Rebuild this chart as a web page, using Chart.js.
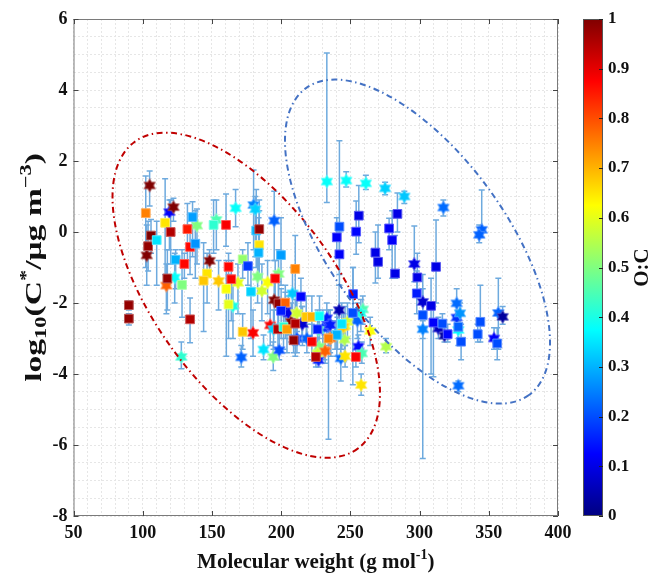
<!DOCTYPE html>
<html>
<head>
<meta charset="utf-8">
<script src="https://cdn.jsdelivr.net/npm/chart.js@4"></script>
<style>
  html, body { margin: 0; padding: 0; background: #fff; }
</style>
</head>
<body>
<canvas id="chart" width="656" height="575"></canvas>
<script>
// Volatility vs molecular weight, coloured by O:C

// [molecular weight, log10 C*, O:C, error low, error high]
const squares = [
  [90, -2.06, 0.98, -2.2, -1.95], [90, -2.44, 0.98, -2.62, -2.3],
  [102.2, 0.53, 0.75, -1.0, 1.58], [106, -0.1, 1.0, -0.6, 0.35],
  [103.9, -0.4, 0.98, -1.1, 0.3], [110.1, -0.23, 0.35, -1.5, 0.3],
  [116.2, 0.26, 0.65, -1.2, 1.5], [120.2, 0.0, 0.95, -0.9, 0.9],
  [132.3, 0.08, 0.85, -0.8, 0.8], [136, 0.42, 0.28, -0.7, 0.85],
  [134.2, -0.42, 0.87, -1.2, 0.2], [138, -0.33, 0.27, -1.3, 0.6],
  [123.8, -0.78, 0.3, -1.6, -0.5], [130.1, -0.9, 0.87, -1.3, -0.6],
  [151.2, 0.2, 0.42, -0.6, 0.9], [160.2, 0.2, 0.88, -0.4, 1.07],
  [182, 0.04, 0.3, -1.0, 1.2], [184.2, 0.08, 0.98, -0.7, 0.9],
  [184.2, -0.37, 0.65, -1.2, 0.6], [183.7, -0.58, 0.3, -1.3, 0.4],
  [199.9, -0.65, 0.28, -1.5, 0.4], [172.2, -0.77, 0.52, -1.3, -0.5],
  [176, -0.96, 0.18, -1.5, -0.3], [162, -0.98, 0.87, -1.3, -0.6],
  [210.2, -1.04, 0.75, -1.7, -0.1], [117.8, -1.31, 0.98, -2.2, -0.5],
  [128.4, -1.49, 0.5, -2.4, -0.5], [134.2, -2.46, 0.95, -3.12, -1.86],
  [146.5, -1.17, 0.65, -2.0, -0.6], [144, -1.37, 0.68, -2.8, -0.3],
  [164, -1.33, 0.88, -2.5, -0.8], [160.4, -1.6, 0.62, -3.5, -0.8],
  [178.2, -1.68, 0.33, -3.0, -1.0], [195.7, -1.31, 0.88, -2.0, -0.8],
  [214.3, -1.82, 0.13, -2.5, -1.3], [162, -2.04, 0.6, -3.0, -1.2],
  [198.1, -2.01, 0.98, -2.8, -1.4], [203, -1.99, 0.78, -3.0, -1.5],
  [200, -2.22, 0.15, -3.0, -1.6], [197.7, -2.74, 0.95, -3.4, -2.2],
  [201.7, -2.67, 0.42, -3.3, -1.9], [204.2, -2.74, 0.72, -3.4, -2.0],
  [210.2, -2.58, 0.95, -3.2, -1.9], [172.2, -2.81, 0.68, -3.3, -2.3],
  [210.2, -3.05, 0.17, -3.5, -2.5], [209, -3.05, 0.98, -3.4, -2.6],
  [218.1, -2.39, 0.68, -3.1, -1.8], [222.2, -2.39, 0.7, -3.0, -1.8],
  [227.7, -2.37, 0.38, -3.0, -1.8], [226.3, -2.74, 0.15, -3.3, -2.2],
  [240.2, -2.9, 0.3, -3.5, -2.3], [234.2, -3.0, 0.75, -5.84, -2.4],
  [222.2, -3.09, 0.88, -3.6, -2.6], [225.1, -3.52, 0.95, -3.8, -3.2],
  [254, -3.52, 0.88, -3.8, -3.2], [243.8, -2.59, 0.35, -3.3, -2.0],
  [251.8, -2.28, 0.2, -4.3, -1.0], [252, -1.75, 0.15, -2.5, -1.0],
  [242.1, 0.15, 0.2, -1.5, 2.57], [240.2, -0.15, 0.12, -0.7, 0.4],
  [242.1, -0.63, 0.12, -1.2, 0.0], [254.2, 0.01, 0.13, -0.63, 0.87],
  [256.1, 0.46, 0.1, -0.3, 1.31], [268.1, -0.58, 0.1, -1.44, 0.0],
  [270, -0.84, 0.1, -1.3, 0.2], [278, 0.1, 0.12, -0.5, 0.39],
  [280.2, -0.23, 0.12, -1.3, 0.6], [284, 0.51, 0.1, 0.0, 1.1],
  [282.3, -1.17, 0.1, -1.3, -0.1], [298.4, -1.28, 0.1, -1.8, -0.6],
  [298, -1.73, 0.15, -2.3, -1.1], [311.9, -0.98, 0.1, -2.0, 0.34],
  [308.3, -2.08, 0.1, -4.0, -1.3], [302.3, -2.34, 0.2, -6.38, -1.2],
  [310, -2.55, 0.12, -4.08, -2.1], [316.5, -2.58, 0.2, -3.0, -2.3],
  [320.3, -2.88, 0.13, -3.1, -2.6], [328, -2.67, 0.22, -3.2, -2.2],
  [330, -3.09, 0.2, -3.6, -2.6], [342, -2.88, 0.2, -3.1, -2.6],
  [343.9, -2.53, 0.2, -3.1, -1.5], [356.1, -3.14, 0.2, -3.6, -2.7]
];

const hexagrams = [
  [105, 1.31, 1.0, 0.73, 1.72], [119.3, 0.56, 0.12, -0.5, 0.9],
  [122.2, 0.7, 1.0, 0.3, 0.95], [139.2, 0.18, 0.5, -0.9, 0.65],
  [102.9, -0.66, 1.0, -1.5, 0.2], [148.3, -0.81, 1.0, -1.1, -0.5],
  [153.2, 0.34, 0.45, -0.5, 0.9], [167.1, 0.67, 0.38, 0.15, 1.2],
  [180.1, 0.76, 0.25, -0.5, 1.75], [181.3, 0.64, 0.33, -0.7, 1.0],
  [195, 0.32, 0.22, -0.8, 1.15], [117.1, -1.51, 0.78, -2.3, -0.9],
  [123.1, -1.28, 0.38, -2.0, -0.6], [127.9, -3.52, 0.42, -3.85, -3.1],
  [154.8, -1.38, 0.68, -2.2, -0.8], [168.8, -1.43, 0.6, -2.3, -0.9],
  [183, -1.26, 0.5, -2.0, -0.5], [186.1, -1.66, 0.58, -2.5, -0.9],
  [190.2, -1.42, 0.62, -2.3, -0.8], [198.1, -1.18, 0.5, -1.9, -0.5],
  [208.2, -1.73, 0.32, -2.5, -1.0], [165.2, -2.09, 0.4, -3.0, -1.5],
  [195, -1.92, 1.0, -2.6, -1.4], [203, -2.22, 0.08, -2.8, -1.7],
  [205.3, -2.29, 0.1, -2.9, -1.8], [210.9, -2.29, 0.58, -2.9, -1.8],
  [215, -2.57, 0.05, -3.1, -2.1], [192.1, -2.63, 0.88, -3.2, -2.0],
  [194.5, -2.74, 0.33, -3.3, -2.2], [207.3, -2.53, 1.0, -3.1, -2.0],
  [179.7, -2.84, 0.88, -3.5, -2.2], [187.3, -3.31, 0.35, -3.6, -2.9],
  [171.2, -3.53, 0.22, -3.8, -3.2], [194.3, -3.52, 0.5, -3.9, -3.1],
  [198.6, -3.33, 0.2, -3.6, -2.8], [215.4, -2.59, 0.08, -3.2, -2.1],
  [233, -2.43, 0.15, -3.0, -2.0], [230.1, -2.72, 0.18, -3.3, -2.2],
  [234.2, -2.62, 0.15, -3.2, -2.2], [235.9, -2.97, 0.75, -3.5, -2.5],
  [231.3, -3.33, 0.78, -3.6, -2.9], [227.5, -3.23, 0.5, -3.6, -2.8],
  [218.6, -3.0, 0.22, -3.4, -2.6], [211.4, -3.0, 0.2, -3.4, -2.6],
  [227, -3.61, 0.15, -3.8, -3.3], [226.3, -3.42, 0.58, -3.7, -3.1],
  [241.9, -2.2, 0.05, -2.8, -1.5], [259, -2.18, 0.45, -2.6, -1.8],
  [255.1, -2.5, 0.22, -3.0, -2.0], [257.6, -2.29, 0.4, -2.8, -1.9],
  [247.9, -2.53, 0.58, -3.0, -2.0], [246.2, -2.65, 0.6, -3.2, -2.1],
  [264.3, -2.79, 0.62, -3.2, -2.4], [245.8, -3.03, 0.55, -3.6, -2.5],
  [240.7, -2.88, 0.45, -3.3, -2.4], [255.8, -3.23, 0.13, -3.5, -2.9],
  [258.3, -3.42, 0.45, -3.7, -3.1], [243.1, -3.56, 0.23, -4.2, -3.0],
  [246.2, -3.5, 0.65, -3.8, -3.2], [275.8, -3.23, 0.55, -3.4, -3.0],
  [257.8, -4.31, 0.65, -4.6, -4.0], [239, -2.89, 0.3, -3.3, -2.5],
  [227, -2.76, 0.45, -3.2, -2.3], [211.4, -2.29, 0.58, -2.8, -1.8],
  [233, 1.42, 0.38, 0.83, 5.04], [247, 1.45, 0.38, 1.27, 1.7],
  [261.2, 1.37, 0.38, 1.2, 1.6], [275.1, 1.23, 0.33, 1.05, 1.4],
  [289, 1.0, 0.32, 0.8, 1.15], [317.2, 0.69, 0.23, 0.45, 0.9],
  [344.9, 0.06, 0.22, -0.15, 1.18], [343.1, -0.08, 0.22, -0.3, 0.2],
  [296.2, -0.9, 0.1, -1.4, 0.17], [302.3, -1.97, 0.08, -2.3, -1.6],
  [302.3, -2.74, 0.25, -3.0, -2.5], [313.6, -2.72, 0.06, -3.0, -2.4],
  [318, -2.92, 0.03, -3.1, -2.7], [326.8, -2.01, 0.23, -2.5, -1.6],
  [326.8, -2.41, 0.17, -2.8, -2.0], [329.2, -2.29, 0.27, -2.7, -2.0],
  [328, -2.76, 0.37, -3.0, -2.5], [328, -4.33, 0.23, -4.5, -4.2],
  [353.8, -3.0, 0.12, -3.3, -2.7], [356.9, -2.28, 0.22, -3.3, -1.3],
  [360, -2.39, 0.03, -2.6, -2.1], [235.4, -3.0, 0.78, -3.4, -2.6],
  [231.8, -3.36, 0.78, -3.7, -3.0], [245, -2.67, 0.68, -3.1, -2.3],
  [235.4, -2.62, 0.15, -3.1, -2.2]
];

const xTicks = [50, 100, 150, 200, 250, 300, 350, 400];
const yTicks = [-8, -6, -4, -2, 0, 2, 4, 6];
const cbTicks = [0, 0.1, 0.2, 0.3, 0.4, 0.5, 0.6, 0.7, 0.8, 0.9, 1];

// ellipse guides: centre in data units, semi-axes in x units, tilt in degrees
const redEllipse = { cx: 174.8, cy: -1.78, a: 137, b: 66, tilt: 54, color: "rgb(192,0,0)" };
const blueEllipse = { cx: 298.5, cy: -0.27, a: 137, b: 64, tilt: 54, color: "rgb(68,114,196)" };

const serif = '"Liberation Serif", "Times New Roman", serif';

// MATLAB jet colormap
function jetRGB(v) {
  const t = Math.min(1, Math.max(0, v));
  const c = (k) => Math.round(255 * Math.min(1, Math.max(0, 1.5 - Math.abs(4 * t - k))));
  return [c(3), c(2), c(1)];
}
function jet(v) {
  const [r, g, b] = jetRGB(v);
  return `rgb(${r},${g},${b})`;
}
function jetEdge(v) {
  const [r, g, b] = jetRGB(v).map((c) => Math.round(c + (255 - c) * 0.35));
  return `rgb(${r},${g},${b})`;
}

const starCache = {};
function starImg(v) {
  const key = v.toFixed(3);
  if (starCache[key]) return starCache[key];
  const s = 16, r = 6.6;
  const cv = document.createElement("canvas");
  cv.width = s;
  cv.height = s;
  const g = cv.getContext("2d");
  g.beginPath();
  for (let i = 0; i < 12; i++) {
    const ang = -Math.PI / 2 + (i * Math.PI) / 6;
    const rr = i % 2 ? r / Math.sqrt(3) : r;
    g.lineTo(s / 2 + rr * Math.cos(ang), s / 2 + rr * Math.sin(ang));
  }
  g.closePath();
  g.fillStyle = jet(v);
  g.fill();
  g.strokeStyle = jetEdge(v);
  g.lineWidth = 0.8;
  g.stroke();
  starCache[key] = cv;
  return cv;
}

function richText(ctx, parts, x, y) {
  let total = 0;
  parts.forEach((p) => {
    ctx.font = `bold ${p[1]}px ${serif}`;
    total += ctx.measureText(p[0]).width;
  });
  let cx = x - total / 2;
  parts.forEach((p) => {
    ctx.font = `bold ${p[1]}px ${serif}`;
    ctx.fillText(p[0], cx, y + p[2]);
    cx += ctx.measureText(p[0]).width;
  });
}

const decor = {
  id: "decor",
  beforeDatasetsDraw(chart) {
    const { ctx, scales: { x, y } } = chart;
    ctx.save();
    ctx.strokeStyle = "rgb(110,170,222)";
    ctx.lineWidth = 1.5;
    [squares, hexagrams].forEach((set) => {
      set.forEach((p) => {
        const px = x.getPixelForValue(p[0]);
        const lo = y.getPixelForValue(p[3]);
        const hi = y.getPixelForValue(p[4]);
        ctx.beginPath();
        ctx.moveTo(px, lo); ctx.lineTo(px, hi);
        ctx.moveTo(px - 3, lo); ctx.lineTo(px + 3, lo);
        ctx.moveTo(px - 3, hi); ctx.lineTo(px + 3, hi);
        ctx.stroke();
      });
    });
    ctx.restore();
  },
  afterDatasetsDraw(chart) {
    const { ctx, chartArea: area, scales: { x, y } } = chart;
    ctx.save();
    ctx.beginPath();
    ctx.rect(area.left, area.top, area.right - area.left, area.bottom - area.top);
    ctx.clip();
    [redEllipse, blueEllipse].forEach((e) => {
      const cx = x.getPixelForValue(e.cx);
      const cy = y.getPixelForValue(e.cy);
      const a = x.getPixelForValue(e.cx + e.a) - cx;
      const b = x.getPixelForValue(e.cx + e.b) - cx;
      ctx.beginPath();
      ctx.ellipse(cx, cy, a, b, (e.tilt * Math.PI) / 180, 0, Math.PI * 2);
      ctx.strokeStyle = e.color;
      ctx.lineWidth = 2;
      ctx.setLineDash([6, 3.5, 1.5, 3.5]);
      ctx.stroke();
    });
    ctx.restore();

    // axes box with inward ticks
    ctx.save();
    ctx.strokeStyle = "#7a7a7a";
    ctx.lineWidth = 1;
    ctx.strokeRect(area.left + 0.5, area.top + 0.5, area.right - area.left - 1, area.bottom - area.top - 1);
    ctx.strokeStyle = "#444";
    ctx.beginPath();
    xTicks.forEach((v) => {
      const px = Math.round(x.getPixelForValue(v)) + 0.5;
      ctx.moveTo(px, area.bottom); ctx.lineTo(px, area.bottom - 5);
      ctx.moveTo(px, area.top); ctx.lineTo(px, area.top + 5);
    });
    yTicks.forEach((v) => {
      const py = Math.round(y.getPixelForValue(v)) + 0.5;
      ctx.moveTo(area.left, py); ctx.lineTo(area.left + 5, py);
      ctx.moveTo(area.right, py); ctx.lineTo(area.right - 5, py);
    });
    ctx.stroke();
    ctx.restore();
  },
  afterDraw(chart) {
    const { ctx, chartArea: area } = chart;
    const cb = chart.scales.cb;
    const bx = cb.left + 25, bw = 20;
    const top = cb.getPixelForValue(1), bottom = cb.getPixelForValue(0);
    ctx.save();
    const grad = ctx.createLinearGradient(0, bottom, 0, top);
    for (let k = 0; k <= 8; k++) grad.addColorStop(k / 8, jet(k / 8));
    ctx.fillStyle = grad;
    ctx.fillRect(bx, top, bw, bottom - top);
    ctx.strokeStyle = "#555";
    ctx.lineWidth = 1;
    ctx.strokeRect(bx + 0.5, top + 0.5, bw - 1, bottom - top - 1);
    ctx.beginPath();
    cbTicks.forEach((v) => {
      const py = Math.round(cb.getPixelForValue(v)) + 0.5;
      ctx.moveTo(bx + bw, py); ctx.lineTo(bx + bw - 4, py);
    });
    ctx.strokeStyle = "#222";
    ctx.stroke();

    ctx.fillStyle = "#111";
    ctx.textBaseline = "alphabetic";
    ctx.textAlign = "left";

    // colorbar label
    ctx.save();
    ctx.translate(648, (top + bottom) / 2);
    ctx.rotate(-Math.PI / 2);
    richText(ctx, [["O:C", 21, 0]], 0, 0);
    ctx.restore();

    // x title
    richText(ctx, [["Molecular weight (g mol", 21, 0], ["-1", 14, -9], [")", 21, 0]],
      (area.left + area.right) / 2, 568);

    // y title (the original is drawn stretched along its length)
    ctx.save();
    ctx.translate(41, (area.top + area.bottom) / 2);
    ctx.rotate(-Math.PI / 2);
    ctx.scale(1.4, 1);
    richText(ctx, [["log", 24, 0], ["10", 16, 5], ["(C", 24, 0], ["*", 16, -10],
      ["/\u03bcg m", 24, 0], ["\u22123", 16, -10], [")", 24, 0]], 0, 0);
    ctx.restore();
    ctx.restore();
  }
};

const tickFont = { family: serif, size: 18, weight: "bold" };

new Chart(document.getElementById("chart"), {
  type: "scatter",
  data: {
    datasets: [
      {
        label: "squares",
        data: squares.map((p) => ({ x: p[0], y: p[1] })),
        pointStyle: "rect",
        pointRadius: 6.2,
        borderWidth: 1,
        backgroundColor: (c) => (c.dataIndex === undefined ? "#000" : jet(squares[c.dataIndex][2])),
        borderColor: (c) => (c.dataIndex === undefined ? "#000" : jetEdge(squares[c.dataIndex][2]))
      },
      {
        label: "hexagrams",
        data: hexagrams.map((p) => ({ x: p[0], y: p[1] })),
        pointStyle: (c) => (c.dataIndex === undefined ? "circle" : starImg(hexagrams[c.dataIndex][2])),
        pointRadius: 6.5,
        borderWidth: 0,
        backgroundColor: "#000"
      }
    ]
  },
  options: {
    responsive: false,
    animation: false,
    events: [],
    layout: { padding: { top: 19, left: 0, right: 0, bottom: 0 } },
    plugins: { legend: { display: false }, tooltip: { enabled: false } },
    scales: {
      x: {
        type: "linear",
        min: 50,
        max: 400,
        afterFit: (s) => { s.height = 59; },
        grid: { color: "#e6e6e6", drawTicks: false },
        border: { display: false, dash: [2, 2] },
        ticks: {
          stepSize: 10,
          autoSkip: false,
          maxRotation: 0,
          padding: 7,
          color: "#111",
          font: tickFont,
          callback: (v) => (xTicks.includes(v) ? String(v) : "")
        }
      },
      y: {
        type: "linear",
        min: -8,
        max: 6,
        afterFit: (s) => { s.width = 73.5; },
        grid: { color: "#e6e6e6", drawTicks: false },
        border: { display: false, dash: [2, 2] },
        ticks: {
          stepSize: 0.5,
          autoSkip: false,
          padding: 6,
          color: "#111",
          font: tickFont,
          callback: (v) => (yTicks.includes(v) ? String(v) : "")
        }
      },
      cb: {
        axis: "y",
        type: "linear",
        position: "right",
        min: 0,
        max: 1,
        afterFit: (s) => { s.width = 98; },
        grid: { drawOnChartArea: false, drawTicks: true, tickLength: 44, color: "rgba(0,0,0,0)" },
        border: { display: false },
        ticks: {
          stepSize: 0.1,
          autoSkip: false,
          padding: 6,
          color: "#111",
          font: { family: serif, size: 17, weight: "bold" },
          callback: (v) => String(+v.toFixed(1))
        }
      }
    }
  },
  plugins: [decor]
});
</script>
</body>
</html>
